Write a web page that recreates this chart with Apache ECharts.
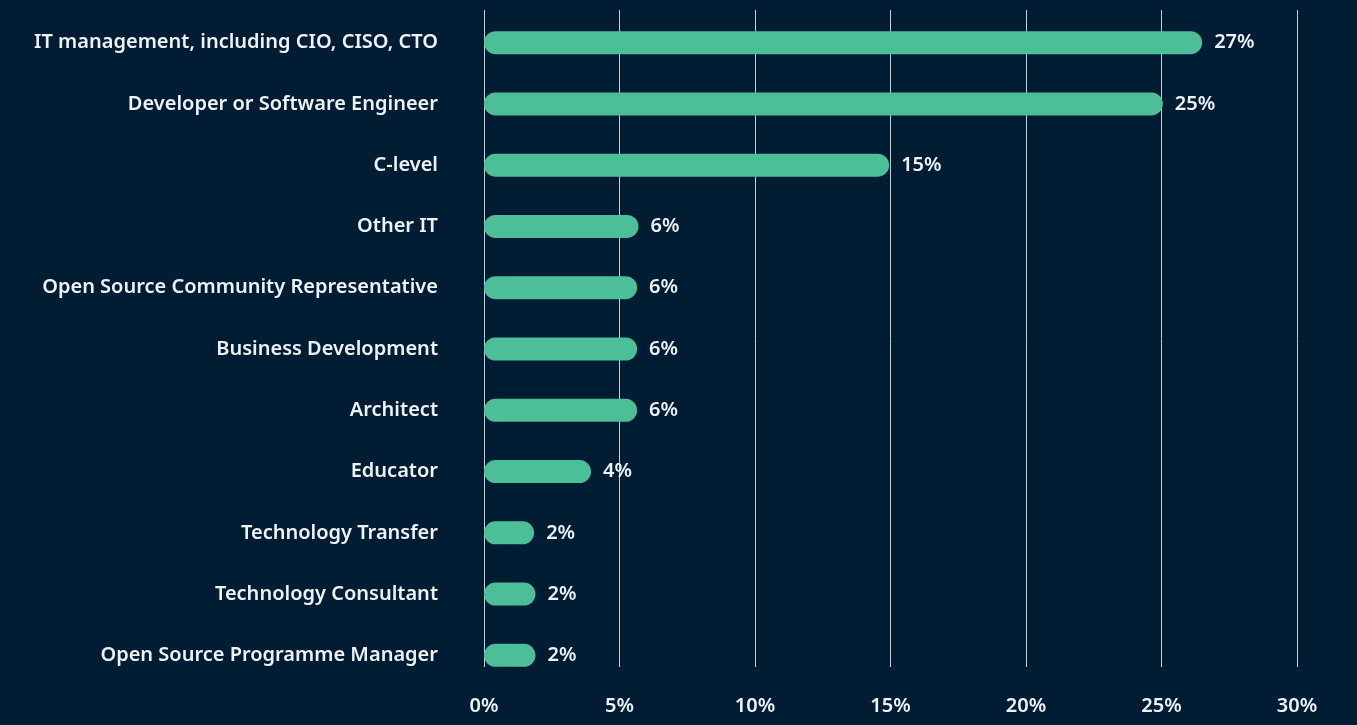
<!DOCTYPE html>
<html>
<head>
<meta charset="utf-8">
<script src="https://cdn.jsdelivr.net/npm/echarts@6/dist/echarts.min.js"></script>
<style>
  html, body { margin: 0; padding: 0; background: #011d33; }
  #contain { width: 1357px; height: 725px; }
</style>
</head>
<body>
<div id="contain"></div>
<script>
// roles, top to bottom
const categories = [
  'IT management, including CIO, CISO, CTO',
  'Developer or Software Engineer',
  'C-level',
  'Other IT',
  'Open Source Community Representative',
  'Business Development',
  'Architect',
  'Educator',
  'Technology Transfer',
  'Technology Consultant',
  'Open Source Programme Manager'
]
// bar lengths as drawn (%)
const values = [26.5, 25.05, 14.95, 5.7, 5.65, 5.65, 5.65, 3.95, 1.85, 1.9, 1.9]
const valueLabels = ['27%', '25%', '15%', '6%', '6%', '6%', '6%', '4%', '2%', '2%', '2%']
const xTicks = [0, 5, 10, 15, 20, 25, 30]

const chartDom = document.getElementById('contain')
const myChart = echarts.init(chartDom)
const textColor = '#eef2f5'
const font = '"Noto Sans", sans-serif'

const option = {
  backgroundColor: '#011d33',
  animation: false,
  grid: [
    { left: 484, right: 60, top: 12, bottom: 39 },
    { left: 484, right: 60, top: 10, bottom: 58 }
  ],
  xAxis: [
    {
      gridIndex: 0,
      type: 'value', min: 0, max: 30,
      show: false
    },
    {
      gridIndex: 1,
      type: 'value', min: xTicks[0], max: xTicks[xTicks.length - 1], interval: 5,
      axisLine: { show: false },
      axisTick: { show: false },
      splitLine: { show: true, lineStyle: { color: '#c9ced3', width: 1 } },
      axisLabel: {
        color: textColor, fontSize: 20, fontWeight: 600, fontFamily: font,
        margin: 29,
        formatter: '{value}%'
      }
    }
  ],
  yAxis: [
    {
      gridIndex: 0,
      type: 'category',
      inverse: true,
      data: categories,
      axisLine: { show: false },
      axisTick: { show: false },
      axisLabel: {
        color: textColor, fontSize: 20, fontWeight: 600, fontFamily: font,
        margin: 46
      }
    },
    {
      gridIndex: 1,
      type: 'category',
      data: ['a'],
      show: false
    }
  ],
  series: [
    {
      type: 'bar',
      xAxisIndex: 0,
      yAxisIndex: 0,
      data: values,
      barWidth: 23,
      z: 5,
      itemStyle: { color: '#4cbf99', borderRadius: 12 },
      label: {
        show: true,
        position: 'right',
        distance: 12,
        color: textColor, fontSize: 20, fontWeight: 600, fontFamily: font,
        formatter: (p) => valueLabels[p.dataIndex]
      }
    }
  ]
}

option && myChart.setOption(option)
</script>
</body>
</html>
